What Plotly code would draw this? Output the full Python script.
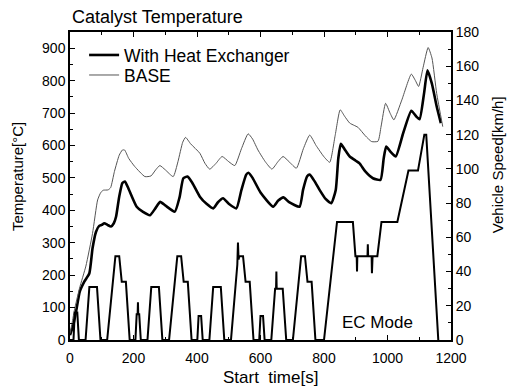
import plotly.graph_objects as go

# ---- data ----
time_base = [0, 8, 14, 30, 50, 71, 87, 97, 105, 120, 128, 140, 155, 165, 172, 185, 204, 236, 255, 270,
             283, 300, 325, 340, 355, 364, 380, 409, 425, 440, 460, 479, 500, 519, 540, 561, 575, 592,
             615, 636, 655, 671, 690, 713, 735, 755, 775, 800, 818, 835, 851, 865, 881, 895, 907, 930,
             950, 970, 980, 994, 1008, 1020, 1045, 1075, 1088, 1098, 1112, 1128, 1140, 1155, 1174]
temp_base = [20, 60, 93, 160, 228, 329, 432, 455, 462, 463, 470, 520, 570, 586, 586, 560, 535, 504, 506, 525,
             538, 525, 504, 550, 610, 625, 605, 576, 545, 527, 545, 566, 550, 538, 590, 636, 620, 586,
             550, 527, 550, 566, 550, 530, 590, 632, 600, 565, 548, 630, 710, 690, 669, 662, 656, 630,
             612, 613, 660, 730, 700, 679, 740, 820, 800, 782, 840, 902, 870, 760, 658]

time_hx = [0, 10, 19, 31, 45, 61, 71, 82, 92, 100, 108, 118, 129, 138, 145, 155, 165, 173, 185, 210,
           230, 252, 268, 284, 300, 330, 345, 357, 370, 385, 409, 430, 451, 466, 482, 500, 524, 540,
           555, 562, 575, 600, 640, 656, 672, 690, 723, 734, 747, 755, 770, 786, 805, 823, 837, 845,
           853, 867, 881, 900, 912, 930, 954, 978, 988, 996, 1010, 1026, 1050, 1075, 1090, 1101, 1115,
           1126, 1140, 1155, 1168]
temp_hx = [15, 45, 87, 150, 180, 206, 283, 334, 352, 355, 360, 355, 350, 360, 380, 442, 484, 489, 465, 411,
           395, 385, 405, 426, 415, 396, 440, 499, 504, 485, 442, 420, 406, 425, 437, 420, 406, 463,
           510, 516, 500, 455, 411, 430, 440, 425, 411, 463, 505, 510, 490, 463, 435, 422, 463, 560,
           605, 585, 566, 553, 545, 520, 499, 494, 560, 597, 580, 566, 640, 707, 690, 681, 760,
           832, 790, 720, 669]

time_speed = [0, 11, 15, 23, 28, 49, 61, 85, 96, 117, 143, 155, 163, 176, 188,
              206, 210, 213, 214, 215, 218, 223, 244, 256, 280, 291, 312, 338, 350, 358, 371, 383,
              401, 405, 413, 418, 439, 451, 475, 486, 507, 527, 529, 531, 533, 545, 553, 566, 578,
              596, 600, 608, 613, 634, 646, 649, 650, 651, 670, 681, 702, 728, 740, 748, 761, 773,
              800, 841, 891, 899, 903, 904, 905, 937, 938, 939, 950, 951, 953, 968, 981, 1031,
              1066, 1096, 1116, 1122, 1160]
speed = [0, 0, 16, 16, 0, 0, 31, 31, 0, 0, 49, 49, 34, 34, 0,
         0, 15, 15, 22, 15, 15, 0, 0, 31, 31, 0, 0, 49, 49, 34, 34, 0,
         0, 14, 14, 0, 0, 31, 31, 0, 0, 44, 57, 47, 49, 49, 34, 34, 0,
         0, 14, 14, 0, 0, 30, 30, 40, 30, 30, 0, 0, 49, 49, 34, 34, 0,
         0, 69, 69, 49, 49, 40, 49, 49, 56, 49, 49, 39, 49, 49, 69, 69,
         99, 99, 120, 120, 0]

x_ticks = [0, 200, 400, 600, 800, 1000, 1200]
temp_ticks = [0, 100, 200, 300, 400, 500, 600, 700, 800, 900]
speed_ticks = [0, 20, 40, 60, 80, 100, 120, 140, 160, 180]

FONT = "Liberation Sans, Arial, sans-serif"

fig = go.Figure()
fig.add_trace(go.Scatter(x=time_speed, y=speed, yaxis="y2", mode="lines",
                         line=dict(color="black", width=2), showlegend=False, hoverinfo="skip"))
fig.add_trace(go.Scatter(x=time_hx, y=temp_hx, mode="lines", name="With Heat Exchanger", legend="legend",
                         line=dict(color="black", width=2.6, shape="spline", smoothing=0.5)))
fig.add_trace(go.Scatter(x=time_base, y=temp_base, mode="lines", name="BASE", legend="legend2",
                         line=dict(color="#555555", width=1, shape="spline", smoothing=0.5)))

axis_common = dict(showgrid=False, zeroline=False, showline=True, linecolor="black",
                   ticks="inside", ticklen=5, tickcolor="black", tickwidth=1.2,
                   tickfont=dict(family=FONT, size=14, color="black"))

legend_common = dict(xanchor="left", yanchor="middle", bgcolor="rgba(0,0,0,0)",
                     font=dict(family=FONT, size=17.5, color="black"), itemwidth=30)

fig.update_layout(
    width=507, height=390,
    margin=dict(l=70, r=56, t=32, b=50),
    paper_bgcolor="white", plot_bgcolor="white",
    font=dict(family=FONT, color="black"),
    xaxis=dict(range=[0, 1200], tickvals=x_ticks, linewidth=1.5, mirror="ticks", ticklabelstandoff=4,
               minor=dict(ticks="inside", ticklen=3, dtick=100, tickcolor="black"), **axis_common),
    yaxis=dict(range=[0, 950], tickvals=temp_ticks, linewidth=1.5,
               minor=dict(ticks="inside", ticklen=3, dtick=50, tickcolor="black"), **axis_common),
    yaxis2=dict(range=[0, 180], tickvals=speed_ticks, overlaying="y", side="right", linewidth=2,
                minor=dict(ticks="inside", ticklen=3, dtick=10, tickcolor="black"), **axis_common),
    legend=dict(x=0.037, y=0.925, **legend_common),
    legend2=dict(x=0.037, y=0.860, **legend_common),
    annotations=[
        dict(text="Catalyst Temperature", x=0, y=1.049, xref="paper", yref="paper",
             xanchor="left", yanchor="middle", showarrow=False, font=dict(family=FONT, size=18)),
        dict(text="Temperature[°C]", x=-0.139, y=0.529, xref="paper", yref="paper", textangle=-90,
             xanchor="center", yanchor="middle", showarrow=False, font=dict(family=FONT, size=15)),
        dict(text="Vehicle Speed[km/h]", x=1.121, y=0.568, xref="paper", yref="paper", textangle=-90,
             xanchor="center", yanchor="middle", showarrow=False, font=dict(family=FONT, size=15)),
        dict(text="Start  time[s]", x=0.527, y=-0.123, xref="paper", yref="paper",
             xanchor="center", yanchor="middle", showarrow=False, font=dict(family=FONT, size=17)),
        dict(text="EC Mode", x=969, y=10, xref="x", yref="y2",
             xanchor="center", yanchor="middle", showarrow=False, font=dict(family=FONT, size=17)),
    ],
)

fig.write_html("out.html", config={"displayModeBar": False})

# remove the browser's default page margin so the 507x390 figure fills the window exactly
with open("out.html", encoding="utf-8") as f:
    html = f.read()
html = html.replace("<head>", "<head><style>html,body{margin:0;padding:0;overflow:hidden;}</style>", 1)
with open("out.html", "w", encoding="utf-8") as f:
    f.write(html)
